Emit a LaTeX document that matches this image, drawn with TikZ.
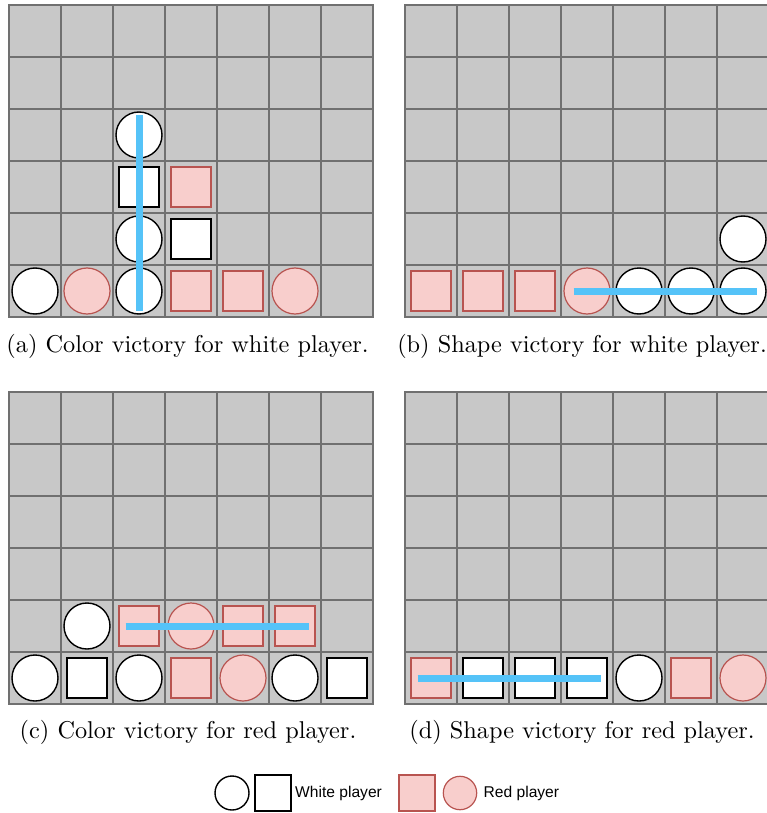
\documentclass[tikz,border=0pt]{standalone}
\usepackage{fontspec}
\newfontfamily\legendfont{Liberation Sans}
\definecolor{boardfill}{HTML}{C8C8C8}
\definecolor{boardline}{HTML}{707070}
\definecolor{redfill}{HTML}{F8CECC}
\definecolor{redline}{HTML}{B85450}
\definecolor{winblue}{HTML}{55C3F8}
\tikzset{
  cellbox/.style={fill=boardfill},
  gridline/.style={draw=boardline, line width=1.6pt, line cap=rect},
  wpc/.style={fill=white, draw=black, line width=1.4pt},
  rpc/.style={fill=redfill, draw=redline, line width=1.2pt},
  winline/.style={draw=winblue, line width=7pt},
  captiontext/.style={anchor=base, inner sep=0pt, scale=2.43},
  legendtext/.style={anchor=west, inner sep=0pt, font=\legendfont\fontsize{15.6}{18}\selectfont},
}
\newcommand\pcWC[2]{\draw[wpc] ({52*#1-26},{52*#2-26}) circle (23);}
\newcommand\pcRC[2]{\draw[rpc] ({52*#1-26},{52*#2-26}) circle (23);}
\newcommand\pcWS[2]{\draw[wpc] ({52*#1-46},{52*#2-46}) rectangle ++(40,40);}
\newcommand\pcRS[2]{\draw[rpc] ({52*#1-46},{52*#2-46}) rectangle ++(40,40);}
\newcommand\pcboard{%
  \fill[cellbox] (0,0) rectangle (364,312);
  \foreach \i in {0,...,7} {\draw[gridline] ({52*\i},0) -- ({52*\i},312);}
  \foreach \j in {0,...,6} {\draw[gridline] (0,{52*\j}) -- (364,{52*\j});}
}
\begin{document}
\begin{tikzpicture}[x=1pt,y=-1pt]
\clip (0,0) rectangle (767,813);
\fill[white] (0,0) rectangle (767,813);

% (a)
\begin{scope}[shift={(9,5)}]
  \pcboard
  \pcWC{3}{3}
  \pcWS{3}{4} \pcRS{4}{4}
  \pcWC{3}{5} \pcWS{4}{5}
  \pcWC{1}{6} \pcRC{2}{6} \pcWC{3}{6} \pcRS{4}{6} \pcRS{5}{6} \pcRC{6}{6}
  \coordinate (a1) at (130,110);
  \coordinate (a2) at (130,306);
  \draw[winline] (a1) -- (a2);
\end{scope}
\node[captiontext] (capa) at (187.5,352) {(a) Color victory for white player.};

% (b)
\begin{scope}[shift={(405,5)}]
  \pcboard
  \pcWC{7}{5}
  \pcRS{1}{6} \pcRS{2}{6} \pcRS{3}{6} \pcRC{4}{6} \pcWC{5}{6} \pcWC{6}{6} \pcWC{7}{6}
  \coordinate (b1) at (168.5,286);
  \coordinate (b2) at (351.5,286);
  \draw[winline] (b1) -- (b2);
\end{scope}
\node[captiontext] (capb) at (582,352) {(b) Shape victory for white player.};

% (c)
\begin{scope}[shift={(9,392)}]
  \pcboard
  \pcWC{2}{5} \pcRS{3}{5} \pcRC{4}{5} \pcRS{5}{5} \pcRS{6}{5}
  \pcWC{1}{6} \pcWS{2}{6} \pcWC{3}{6} \pcRS{4}{6} \pcRC{5}{6} \pcWC{6}{6} \pcWS{7}{6}
  \coordinate (c1) at (116.5,234);
  \coordinate (c2) at (299.5,234);
  \draw[winline] (c1) -- (c2);
\end{scope}
\node[captiontext] (capc) at (188,738) {(c) Color victory for red player.};

% (d)
\begin{scope}[shift={(405,392)}]
  \pcboard
  \pcRS{1}{6} \pcWS{2}{6} \pcWS{3}{6} \pcWS{4}{6} \pcWC{5}{6} \pcRS{6}{6} \pcRC{7}{6}
  \coordinate (d1) at (12.5,286);
  \coordinate (d2) at (195.5,286);
  \draw[winline] (d1) -- (d2);
\end{scope}
\node[captiontext] (capd) at (582,738) {(d) Shape victory for red player.};

% legend
\draw[wpc] (232,793) circle (17);
\draw[wpc] (255,775) rectangle (291,811);
\node[legendtext] (lw) at (295,793) {White player};
\draw[rpc] (399,775) rectangle (435,811);
\draw[rpc] (460,793) circle (16.7);
\node[legendtext] (lr) at (483.5,793) {Red player};
\end{tikzpicture}
\end{document}
